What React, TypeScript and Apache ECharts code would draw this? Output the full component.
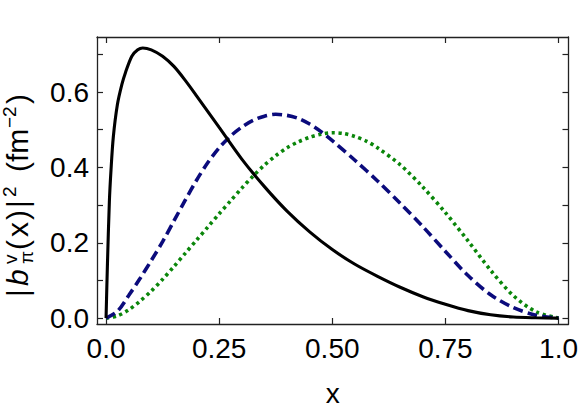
import React, { useEffect, useRef } from "react";
import * as echarts from "echarts";

// Solid black curve
const xBlack = [0, 0.003, 0.0073, 0.011, 0.016, 0.025, 0.035, 0.043, 0.057, 0.07, 0.081, 0.1, 0.125, 0.15, 0.175, 0.2, 0.25, 0.3, 0.35, 0.4, 0.45, 0.5, 0.55, 0.6, 0.65, 0.7, 0.75, 0.8, 0.85, 0.9, 0.95, 1.0];
const yBlack = [0, 0.14, 0.308, 0.394, 0.48, 0.566, 0.62, 0.652, 0.695, 0.712, 0.717, 0.712, 0.695, 0.668, 0.631, 0.59, 0.506, 0.422, 0.349, 0.284, 0.229, 0.182, 0.143, 0.111, 0.082, 0.057, 0.037, 0.02, 0.009, 0.003, 0.001, 0];

// Dashed blue curve
const xBlue = [0, 0.025, 0.05, 0.075, 0.1, 0.125, 0.15, 0.175, 0.2, 0.225, 0.25, 0.275, 0.3, 0.325, 0.35, 0.375, 0.4, 0.425, 0.45, 0.475, 0.5, 0.55, 0.6, 0.65, 0.7, 0.75, 0.8, 0.85, 0.9, 0.95, 1.0];
const yBlue = [0, 0.018, 0.06, 0.105, 0.153, 0.203, 0.258, 0.313, 0.366, 0.413, 0.452, 0.483, 0.507, 0.525, 0.536, 0.541, 0.538, 0.53, 0.515, 0.495, 0.471, 0.419, 0.364, 0.305, 0.243, 0.177, 0.113, 0.062, 0.028, 0.008, 0];

// Dotted green curve
const xGreen = [0, 0.025, 0.05, 0.075, 0.1, 0.125, 0.15, 0.175, 0.2, 0.225, 0.25, 0.275, 0.3, 0.325, 0.35, 0.375, 0.4, 0.425, 0.45, 0.475, 0.5, 0.525, 0.55, 0.575, 0.6, 0.65, 0.7, 0.75, 0.8, 0.85, 0.9, 0.95, 1.0];
const yGreen = [0, 0.006, 0.022, 0.045, 0.072, 0.103, 0.137, 0.172, 0.207, 0.242, 0.277, 0.311, 0.345, 0.377, 0.406, 0.431, 0.452, 0.468, 0.48, 0.488, 0.492, 0.49, 0.482, 0.47, 0.452, 0.407, 0.348, 0.28, 0.205, 0.127, 0.06, 0.017, 0];

// Ticks
const xTickValues = [0, 0.25, 0.5, 0.75, 1.0];
const xTickLabels = ["0.0", "0.25", "0.50", "0.75", "1.0"];
const yTickValues = [0, 0.1, 0.2, 0.3, 0.4, 0.5, 0.6, 0.7];
const yLabelValues = [0, 0.2, 0.4, 0.6];
const yTickLabels = ["0.0", "0.2", "0.4", "0.6"];

const FONT = "'Liberation Sans', Arial, Helvetica, sans-serif";
const FRAME = "#222";

function zip(xs: number[], ys: number[]) {
  return xs.map((x, i) => [x, ys[i]]);
}

export default function App() {
  const ref = useRef<HTMLDivElement>(null);
  useEffect(() => {
    if (!ref.current) return;
    const chart = echarts.init(ref.current, undefined, { renderer: "svg" });
    const xLabelFmt = (v: number) => {
      const i = xTickValues.findIndex((t) => Math.abs(t - v) < 1e-6);
      return i >= 0 ? xTickLabels[i] : "";
    };
    const yLabelFmt = (v: number) => {
      const i = yLabelValues.findIndex((t) => Math.abs(t - v) < 1e-6);
      return i >= 0 ? yTickLabels[i] : "";
    };
    const axisLine = { show: true, onZero: false, lineStyle: { color: FRAME, width: 1.3 } };
    const tickStyle = { color: FRAME, width: 1.2 };
    const baseX = {
      type: "value" as const,
      min: -0.02,
      max: 1.022,
      splitLine: { show: false },
      axisLine,
    };
    const baseY = {
      type: "value" as const,
      min: -0.0155,
      max: 0.746,
      splitLine: { show: false },
      axisLine,
    };
    const S = 30;
    const s = 19;
    const mid = (fs: number) => -0.35 * fs;
    const piece = (text: string, x: number, y: number, fs: number, italic = false) => ({
      type: "text",
      x,
      y,
      style: {
        text,
        font: `${italic ? "italic " : ""}${fs}px ${FONT}`,
        fill: "#000",
        align: "left",
        verticalAlign: "middle",
      },
    });
    chart.setOption({
      animation: false,
      grid: { left: 97, right: 11, top: 37, bottom: 80, containLabel: false },
      xAxis: [
        {
          ...baseX,
          position: "bottom",
          name: "x",
          nameLocation: "middle",
          nameGap: 55,
          nameTextStyle: { fontFamily: FONT, fontSize: 28, color: "#000" },
          axisTick: { show: true, inside: true, length: 6, lineStyle: tickStyle, customValues: xTickValues },
          axisLabel: {
            show: true,
            customValues: xTickValues,
            formatter: xLabelFmt,
            margin: 10,
            fontFamily: FONT,
            fontSize: 28,
            color: "#000",
          },
        },
        {
          ...baseX,
          position: "top",
          axisTick: { show: true, inside: true, length: 6, lineStyle: tickStyle, customValues: xTickValues },
          axisLabel: { show: false },
        },
      ],
      yAxis: [
        {
          ...baseY,
          position: "left",
          axisTick: { show: true, inside: true, length: 6, lineStyle: tickStyle, customValues: yTickValues },
          axisLabel: {
            show: true,
            customValues: yLabelValues,
            formatter: yLabelFmt,
            margin: 8,
            fontFamily: FONT,
            fontSize: 28,
            color: "#000",
          },
        },
        {
          ...baseY,
          position: "right",
          axisTick: { show: true, inside: true, length: 6, lineStyle: tickStyle, customValues: yTickValues },
          axisLabel: { show: false },
        },
      ],
      graphic: [
        {
          type: "group",
          x: 28,
          y: 300,
          rotation: Math.PI / 2,
          children: [
            piece("|", 3, mid(S), S),
            piece("b", 14, mid(S), S, true),
            piece("v", 36, -11 + mid(s), s),
            piece("π", 36, 5 + mid(s), s),
            piece("(", 50, mid(S), S),
            piece("x", 63, mid(S), S),
            piece(")", 80, mid(S), S),
            piece("|", 92, mid(S), S),
            piece("2", 103, -12 + mid(s), s),
            piece("(fm", 128, mid(S), S),
            piece("−2", 172, -12 + mid(s), s),
            piece(")", 196, mid(S), S),
          ],
        },
      ],
      series: [
        {
          type: "line",
          data: zip(xGreen, yGreen),
          showSymbol: false,
          smooth: 0.3,
          lineStyle: { color: "#0a860a", width: 3.6, type: [3.2, 3.6] },
          z: 2,
        },
        {
          type: "line",
          data: zip(xBlue, yBlue),
          showSymbol: false,
          smooth: 0.3,
          lineStyle: { color: "#0b0b7c", width: 3.6, type: [10, 5] },
          z: 3,
        },
        {
          type: "line",
          data: zip(xBlack, yBlack),
          showSymbol: false,
          smooth: 0.3,
          lineStyle: { color: "#000", width: 3.1 },
          z: 4,
        },
      ],
    });
    return () => chart.dispose();
  }, []);
  return (
    <div
      ref={ref}
      style={{ position: "fixed", left: 0, top: 0, width: 581, height: 412, background: "#fff" }}
    />
  );
}
